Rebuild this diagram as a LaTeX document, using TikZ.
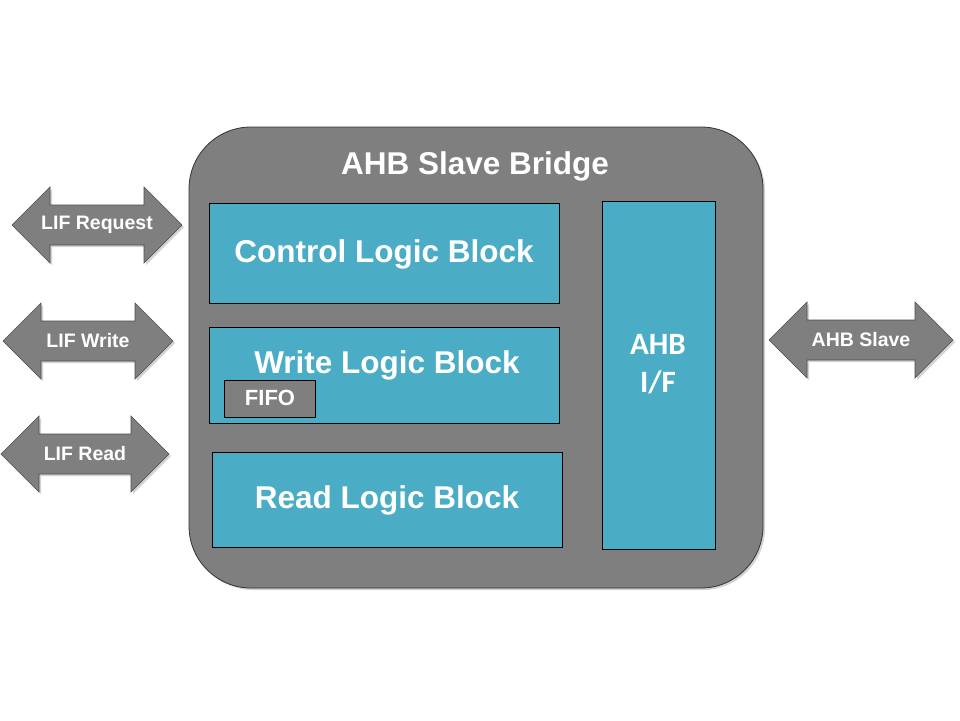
\documentclass[tikz,border=0pt]{standalone}
\usepackage{fontspec}
\setmainfont{Liberation Sans}
\newfontfamily\carlitofont{Carlito}
\usetikzlibrary{shadows}
\definecolor{boxgray}{HTML}{7F7F7F}
\definecolor{blockblue}{HTML}{4BACC6}
\tikzset{
  shad/.style={drop shadow={opacity=0.35,shadow xshift=2pt,shadow yshift=-2pt}},
  arrowshape/.style={fill=boxgray,draw=black!70,line width=0.6pt,shad},
  arrowtext/.style={text=white,font=\bfseries\fontsize{19.5}{21}\selectfont,inner sep=0pt},
  outerbox/.style={fill=boxgray,draw=black!80,line width=0.8pt,rounded corners=62pt,shad},
  blockbox/.style={fill=blockblue,draw=black,line width=0.8pt},
  blocktext/.style={text=white,font=\bfseries\fontsize{31.5}{34}\selectfont,inner sep=0pt},
  fifobox/.style={fill=boxgray,draw=black,line width=0.8pt},
}
\newcommand\dblarr[5]{%
  \path[arrowshape] (#2,#4) -- (#2+38,#4-38) -- (#2+38,#4-20) -- (#3-38,#4-20) -- (#3-38,#4-38) -- (#3,#4)
     -- (#3-38,#4+38) -- (#3-38,#4+20) -- (#2+38,#4+20) -- (#2+38,#4+38) -- cycle;
  \node[arrowtext] (#1) at ({(#2+#3)/2},#4) {#5};}
\begin{document}
\begin{tikzpicture}[x=1pt,y=-1pt]
\useasboundingbox[fill=white] (0,0) rectangle (960,720);
% arrows
\dblarr{lifreq}{12}{182}{225}{LIF Request}
\dblarr{lifwr}{3}{173}{341}{LIF Write}
\dblarr{lifrd}{1}{169}{454}{LIF Read}
\dblarr{ahbs}{769}{953}{340}{AHB Slave}
% outer box
\draw[outerbox] (189,127) rectangle (763,588);
\node[text=white,font=\bfseries\fontsize{31.5}{34}\selectfont,inner sep=0pt] (title) at (475,166) {AHB Slave Bridge};
% blocks
\draw[blockbox] (209,203) rectangle (559,303);
\node[blocktext] (ctrl) at (384,254) {Control Logic Block};
\draw[blockbox] (209,327) rectangle (559,423);
\node[blocktext] (wr) at (387,365) {Write Logic Block};
\draw[fifobox] (224,380) rectangle (315,417);
\node[text=white,font=\bfseries\fontsize{22}{24}\selectfont,inner sep=0pt] (fifo) at (270,398) {FIFO};
\draw[blockbox] (212,452) rectangle (562,547);
\node[blocktext] (rd) at (387,500) {Read Logic Block};
\draw[blockbox] (602,201) rectangle (715,549);
\node[text=white,font=\carlitofont\bfseries\fontsize{31}{38}\selectfont,align=center,inner sep=0pt] (ahbif) at (658,364) {AHB\\I/F};
\end{tikzpicture}
\end{document}
